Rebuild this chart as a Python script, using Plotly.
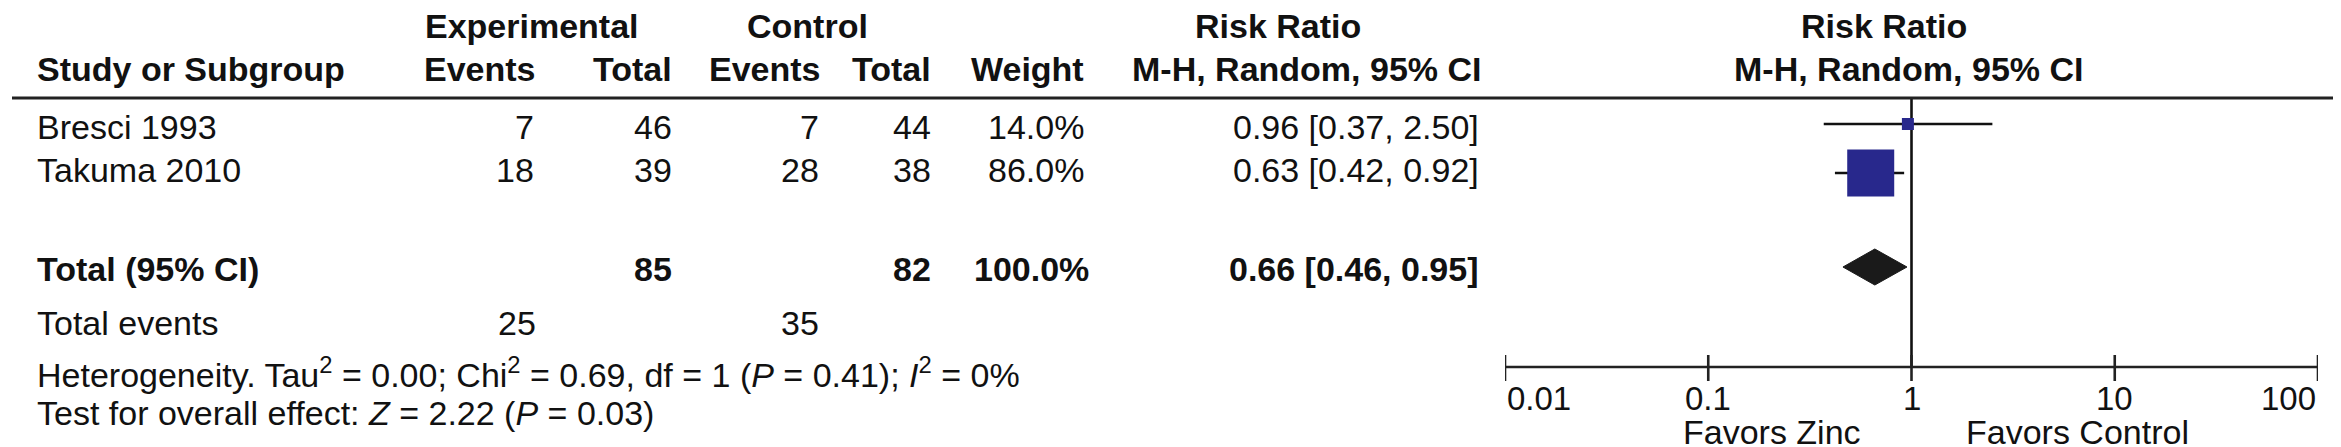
import math
import plotly.graph_objects as go

# ---------------- data ----------------
studies = ["Bresci 1993", "Takuma 2010"]
exp_events = [7, 18]
exp_total = [46, 39]
ctrl_events = [7, 28]
ctrl_total = [44, 38]
weights = [14.0, 86.0]
rr = [0.96, 0.63]
ci_low = [0.37, 0.42]
ci_high = [2.50, 0.92]

total_label = "Total (95% CI)"
total_exp = 85
total_ctrl = 82
total_weight = 100.0
total_rr = 0.66
total_low = 0.46
total_high = 0.95
total_exp_events = 25
total_ctrl_events = 35

het_tau2 = 0.00
het_chi2 = 0.69
het_df = 1
het_p = 0.41
het_i2 = 0
overall_z = 2.22
overall_p = 0.03

axis_ticks = [0.01, 0.1, 1, 10, 100]
axis_tick_labels = ["0.01", "0.1", "1", "10", "100"]
favors_left = "Favors Zinc"
favors_right = "Favors Control"

# ---------------- layout / style ----------------
W, H = 2341, 447
FONT = "Liberation Sans, Arial, Helvetica, sans-serif"
FS = 34
TICK_FS = 33
INK = "#111111"
NAVY = "#28288C"
PLOT_X0, PLOT_X1 = 1497, 2310

Y_H1, Y_H2, Y_LINE = 18, 61, 90
Y_ROWS_TEXT = [119, 162]
Y_ROWS_MARK = [116, 165]
Y_TOTAL_TEXT, Y_TOTAL_MARK = 261, 259
Y_EVENTS, Y_HET, Y_TEST = 315, 364, 405
Y_AXIS, Y_TICK_TOP, Y_TICK_BOT = 359, 347, 373
Y_TICKLAB, Y_FAVORS = 390, 424
DIAMOND_HALF = 18
SQUARE_SIZES = [12, 47]

COL_EXP_EV, COL_EXP_TOT = 528, 666
COL_CTL_EV, COL_CTL_TOT = 813, 925
COL_WEIGHT, COL_RR = 1078, 1473
X_TEXT = 27

fig = go.Figure()
ann = []


def txt(x, y, s, anchor="left", bold=False, size=FS, xref="paper"):
    if bold:
        s = "<b>" + s + "</b>"
    ann.append(dict(
        x=(x / W) if xref == "paper" else x, y=y, xref=xref, yref="y",
        text=s, showarrow=False, xanchor=anchor, yanchor="middle",
        font=dict(family=FONT, size=size, color=INK),
    ))


# header row 1
txt(415, Y_H1, "Experimental", "left", True)
txt(737, Y_H1, "Control", "left", True)
txt(1270, Y_H1, "Risk Ratio", "center", True)
txt(1876, Y_H1, "Risk Ratio", "center", True)
# header row 2
txt(X_TEXT, Y_H2, "Study or Subgroup", "left", True)
txt(530, Y_H2, "Events", "right", True)
txt(COL_EXP_TOT, Y_H2, "Total", "right", True)
txt(815, Y_H2, "Events", "right", True)
txt(COL_CTL_TOT, Y_H2, "Total", "right", True)
txt(COL_WEIGHT, Y_H2, "Weight", "right", True)
txt(1475, Y_H2, "M-H, Random, 95% CI", "right", True)
txt(1900, Y_H2, "M-H, Random, 95% CI", "center", True)

# study rows
for i, name in enumerate(studies):
    y = Y_ROWS_TEXT[i]
    txt(X_TEXT, y, name)
    txt(COL_EXP_EV, y, str(exp_events[i]), "right")
    txt(COL_EXP_TOT, y, str(exp_total[i]), "right")
    txt(COL_CTL_EV, y, str(ctrl_events[i]), "right")
    txt(COL_CTL_TOT, y, str(ctrl_total[i]), "right")
    txt(COL_WEIGHT, y, f"{weights[i]:.1f}%", "right")
    txt(COL_RR, y, f"{rr[i]:.2f} [{ci_low[i]:.2f}, {ci_high[i]:.2f}]", "right")

# total row
txt(X_TEXT, Y_TOTAL_TEXT, total_label, "left", True)
txt(COL_EXP_TOT, Y_TOTAL_TEXT, str(total_exp), "right", True)
txt(COL_CTL_TOT, Y_TOTAL_TEXT, str(total_ctrl), "right", True)
txt(COL_WEIGHT + 5, Y_TOTAL_TEXT, f"{total_weight:.1f}%", "right", True)
txt(COL_RR, Y_TOTAL_TEXT, f"{total_rr:.2f} [{total_low:.2f}, {total_high:.2f}]", "right", True)

txt(X_TEXT, Y_EVENTS, "Total events")
txt(COL_EXP_EV + 2, Y_EVENTS, str(total_exp_events), "right")
txt(COL_CTL_EV, Y_EVENTS, str(total_ctrl_events), "right")

txt(X_TEXT, Y_HET,
    f"Heterogeneity. Tau<sup>2</sup> = {het_tau2:.2f}; Chi<sup>2</sup> = {het_chi2:.2f}, "
    f"df = {het_df} (<i>P</i> = {het_p:.2f}); <i>I</i><sup>2</sup> = {het_i2}%")
txt(X_TEXT, Y_TEST,
    f"Test for overall effect: <i>Z</i> = {overall_z:.2f} (<i>P</i> = {overall_p:.2f})")

# header rule
fig.add_shape(type="line", xref="paper", yref="y", x0=4 / W, x1=2336 / W,
              y0=Y_LINE, y1=Y_LINE, line=dict(color="#222222", width=2.8))

LW = 2.6
# line of no effect
fig.add_trace(go.Scatter(x=[1, 1], y=[Y_LINE, Y_AXIS], mode="lines",
                         line=dict(color=INK, width=LW), hoverinfo="skip"))

# CI lines and squares
for i in range(len(studies)):
    fig.add_trace(go.Scatter(x=[ci_low[i], ci_high[i]], y=[Y_ROWS_MARK[i]] * 2,
                             mode="lines", line=dict(color=INK, width=LW),
                             hoverinfo="skip"))
    fig.add_trace(go.Scatter(x=[rr[i]], y=[Y_ROWS_MARK[i]], mode="markers",
                             marker=dict(symbol="square", size=SQUARE_SIZES[i],
                                         color=NAVY, line=dict(width=0)),
                             hoverinfo="skip"))

# diamond
fig.add_trace(go.Scatter(
    x=[total_low, total_rr, total_high, total_rr, total_low],
    y=[Y_TOTAL_MARK, Y_TOTAL_MARK - DIAMOND_HALF, Y_TOTAL_MARK,
       Y_TOTAL_MARK + DIAMOND_HALF, Y_TOTAL_MARK],
    mode="lines", fill="toself", fillcolor="#1a1a1a",
    line=dict(color="#1a1a1a", width=1), hoverinfo="skip"))

# axis
fig.add_trace(go.Scatter(x=[axis_ticks[0], axis_ticks[-1]], y=[Y_AXIS, Y_AXIS],
                         mode="lines", line=dict(color="#222222", width=LW),
                         hoverinfo="skip"))
tx, ty = [], []
for t in axis_ticks:
    tx += [t, t, None]
    ty += [Y_TICK_TOP, Y_TICK_BOT, None]
fig.add_trace(go.Scatter(x=tx, y=ty, mode="lines",
                         line=dict(color="#222222", width=LW), hoverinfo="skip"))
for j, (t, lab) in enumerate(zip(axis_ticks, axis_tick_labels)):
    anchor = "left" if j == 0 else ("right" if j == len(axis_ticks) - 1 else "center")
    txt(math.log10(t), Y_TICKLAB, lab, anchor, size=TICK_FS, xref="x")

txt(1855, Y_FAVORS, favors_left, "right")
txt(1956, Y_FAVORS, favors_right, "left")

fig.update_layout(
    width=W, height=H, margin=dict(l=0, r=0, t=0, b=0),
    paper_bgcolor="white", plot_bgcolor="white", showlegend=False,
    annotations=ann,
    xaxis=dict(type="log", range=[-2, 2], domain=[PLOT_X0 / W, PLOT_X1 / W],
               visible=False, fixedrange=True),
    yaxis=dict(range=[H, 0], domain=[0, 1], visible=False, fixedrange=True),
)

fig.write_html("out.html")
